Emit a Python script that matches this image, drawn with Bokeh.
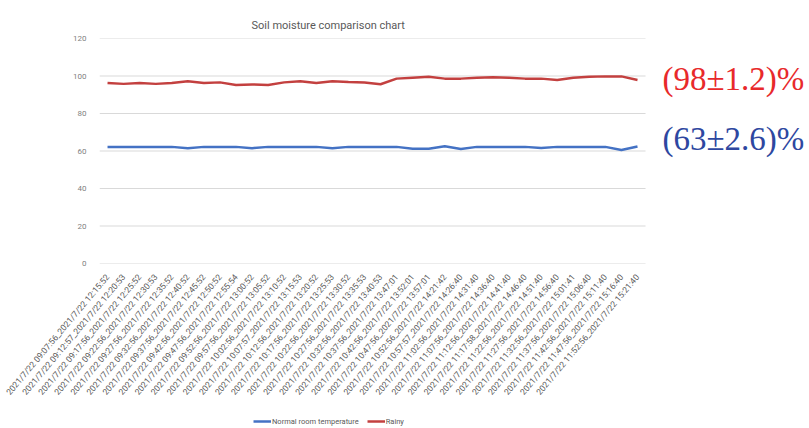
from bokeh.plotting import figure
from bokeh.layouts import column
from bokeh.models import Range1d, FixedTicker, Legend, LegendItem, Label
from bokeh.embed import file_html
from bokeh.resources import INLINE

starts = ["09:07:56", "09:12:57", "09:17:56", "09:22:56", "09:27:56", "09:32:56", "09:37:56",
          "09:42:56", "09:47:56", "09:52:56", "09:57:56", "10:02:56", "10:07:57", "10:12:56",
          "10:17:56", "10:22:56", "10:27:56", "10:32:56", "10:37:56", "10:42:56", "10:47:56",
          "10:52:56", "10:57:57", "11:02:56", "11:07:56", "11:12:56", "11:17:58", "11:22:56",
          "11:27:56", "11:32:56", "11:37:56", "11:42:56", "11:47:56", "11:52:56"]
ends = ["12:15:52", "12:20:53", "12:25:52", "12:30:53", "12:35:52", "12:40:52", "12:45:52",
        "12:50:52", "12:55:54", "13:00:52", "13:05:52", "13:10:52", "13:15:53", "13:20:52",
        "13:25:53", "13:30:52", "13:35:53", "13:40:53", "13:47:01", "13:52:01", "13:57:01",
        "14:21:42", "14:26:40", "14:31:40", "14:36:40", "14:41:40", "14:46:40", "14:51:40",
        "14:56:40", "15:01:41", "15:06:40", "15:11:40", "15:16:40", "15:21:40"]
categories = ["2021/7/22 %s_2021/7/22 %s" % (a, b) for a, b in zip(starts, ends)]

normal = [62.2, 62.2, 62.2, 62.2, 62.2, 61.5, 62.2, 62.2, 62.2, 61.5, 62.2, 62.2, 62.2, 62.2,
          61.5, 62.2, 62.2, 62.2, 62.2, 61.2, 61.2, 62.5, 61.1, 62.2, 62.2, 62.2, 62.2, 61.6,
          62.2, 62.2, 62.2, 62.2, 60.5, 62.4]
rainy = [96.3, 95.8, 96.3, 95.8, 96.3, 97.2, 96.3, 96.6, 95.2, 95.5, 95.2, 96.6, 97.2, 96.3,
         97.2, 96.8, 96.5, 95.6, 98.6, 99.1, 99.6, 98.6, 98.6, 99.1, 99.3, 99.1, 98.6, 98.6,
         97.9, 99.1, 99.6, 99.8, 99.8, 97.9]
y_ticks = [0, 20, 40, 60, 80, 100, 120]
series_names = ["Normal room temperature", "Rainy"]
notes = ["(63\u00b12.6)%", "(98\u00b11.2)%"]
note_levels = [66.2, 98.6]

idx = list(range(len(categories)))
n = len(categories)
BLUE = "#4472C4"
RED = "#C3403F"

p = figure(width=809, height=404, x_range=Range1d(-0.5, 43.71), y_range=Range1d(0, 120),
           output_backend="svg", toolbar_location=None,
           min_border_left=99, min_border_right=0, min_border_top=38, min_border_bottom=141)
p.outline_line_color = None
p.background_fill_color = "white"

p.title.text = "Soil moisture comparison chart"
p.title.align = "left"
p.title.offset = 152
p.title.standoff = 14
p.title.text_font = "Roboto"
p.title.text_font_size = "11px"
p.title.text_font_style = "normal"
p.title.text_color = "#595959"

p.xgrid.visible = False
p.ygrid.visible = False
# horizontal gridlines over the plot area only (category span)
p.segment(x0=[-0.5] * len(y_ticks), x1=[n - 0.5] * len(y_ticks), y0=y_ticks, y1=y_ticks,
          line_color="#D9D9D9", line_width=1)

p.yaxis.ticker = FixedTicker(ticks=y_ticks)
p.xaxis.ticker = FixedTicker(ticks=idx)
p.xaxis.major_label_overrides = {i: c for i, c in zip(idx, categories)}
for ax in (p.xaxis[0], p.yaxis[0]):
    ax.axis_line_color = None
    ax.major_tick_line_color = None
    ax.minor_tick_line_color = None
    ax.major_label_text_color = "#595959"
    ax.major_label_text_font = "Roboto"

p.yaxis.major_label_text_font_size = "8px"
p.yaxis.major_label_text_color = "#7F7F7F"
p.yaxis.major_label_standoff = 7
p.xaxis.major_label_text_font_size = "8.5px"
p.xaxis.major_label_orientation = 0.87
p.xaxis.major_label_standoff = 6

p.line(idx, normal, line_color=BLUE, line_width=2.5)
p.line(idx, rainy, line_color=RED, line_width=2.5)

note_colors = ["#2E47A0", "#E8292B"]
for txt, lvl, col in zip(notes, note_levels, note_colors):
    p.add_layout(Label(x=34.55, y=lvl, text=txt, text_color=col, text_font="Liberation Serif",
                       text_font_size="33px", text_baseline="middle", text_align="left"))

# legend strip below the chart
q = figure(width=809, height=22, x_range=Range1d(0, 1), y_range=Range1d(0, 1),
           output_backend="svg", toolbar_location=None, x_axis_location=None,
           y_axis_location=None, min_border=0)
q.outline_line_color = None
q.xgrid.visible = False
q.ygrid.visible = False
lb = q.line(idx, normal, line_color=BLUE, line_width=2.5)
lr = q.line(idx, rainy, line_color=RED, line_width=2.5)
legend = Legend(items=[LegendItem(label=series_names[0], renderers=[lb]),
                       LegendItem(label=series_names[1], renderers=[lr])],
                orientation="horizontal", location=(154, 0),
                background_fill_alpha=0, border_line_color=None,
                label_text_font="Roboto", label_text_font_size="7.5px",
                label_text_color="#595959", glyph_width=18, glyph_height=10,
                label_height=10, label_standoff=1, spacing=8, padding=0, margin=0)
q.add_layout(legend, "center")

layout = column(p, q, spacing=0)
open("out.html", "w").write(file_html(layout, INLINE))
